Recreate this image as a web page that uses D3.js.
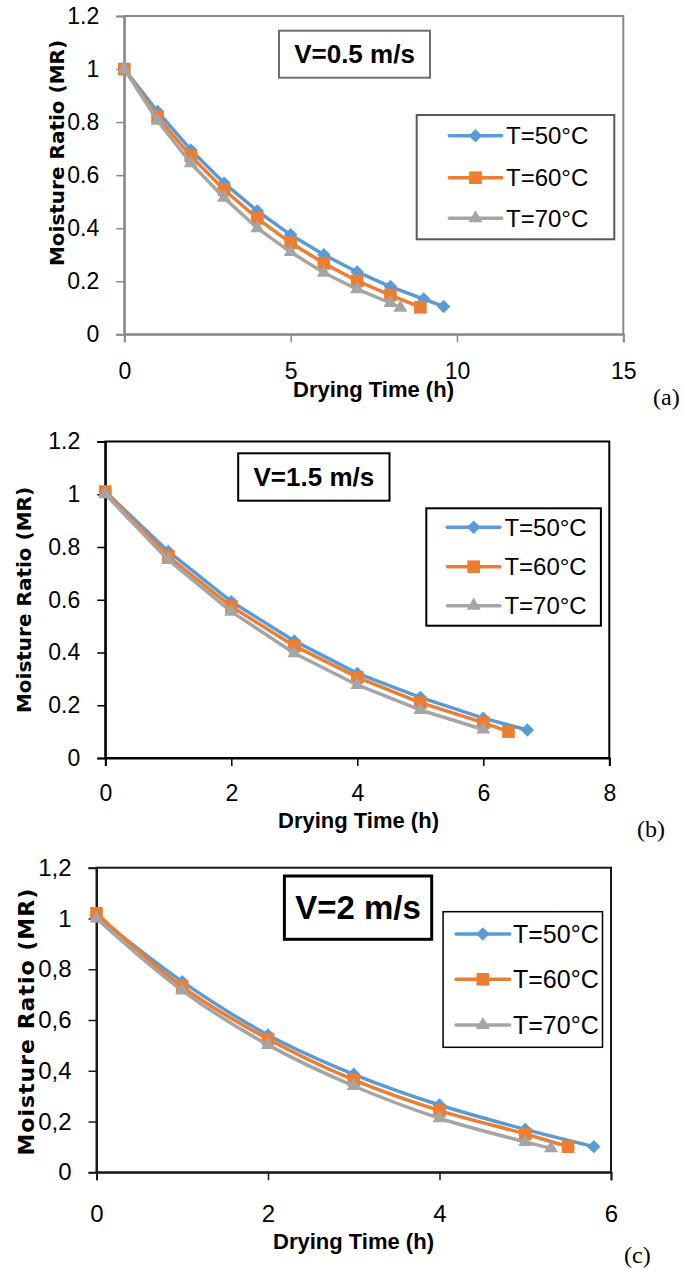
<!DOCTYPE html>
<html>
<head>
<meta charset="utf-8">
<script src="https://cdn.jsdelivr.net/npm/d3@7"></script>
<style>
  body { margin: 0; background: #fff; }
  svg text { font-family: "Liberation Sans", Arial, sans-serif; }
</style>
</head>
<body>
<svg id="chart" width="684" height="1270"></svg>
<script>
const seriesNames = ["T=50°C", "T=60°C", "T=70°C"];

// (a) V=0.5 m/s
const timeA50 = [0, 1, 2, 3, 4, 5, 6, 7, 8, 9, 9.6];
const mrA50 = [1.0, 0.84, 0.695, 0.57, 0.465, 0.375, 0.3, 0.235, 0.18, 0.133, 0.105];
const timeA60 = [0, 1, 2, 3, 4, 5, 6, 7, 8, 8.9];
const mrA60 = [1.0, 0.82, 0.672, 0.545, 0.437, 0.345, 0.268, 0.201, 0.148, 0.102];
const timeA70 = [0, 1, 2, 3, 4, 5, 6, 7, 8, 8.3];
const mrA70 = [1.0, 0.805, 0.645, 0.515, 0.4, 0.31, 0.232, 0.17, 0.118, 0.1];

// (b) V=1.5 m/s
const timeB50 = [0, 1, 2, 3, 4, 5, 6, 6.7];
const mrB50 = [1.01, 0.783, 0.593, 0.444, 0.321, 0.23, 0.151, 0.106];
const timeB60 = [0, 1, 2, 3, 4, 5, 6, 6.4];
const mrB60 = [1.01, 0.764, 0.574, 0.425, 0.306, 0.21, 0.134, 0.1];
const timeB70 = [0, 1, 2, 3, 4, 5, 6];
const mrB70 = [1.0, 0.751, 0.555, 0.397, 0.277, 0.182, 0.108];

// (c) V=2 m/s
const timeC50 = [0, 1, 2, 3, 4, 5, 5.8];
const mrC50 = [1.01, 0.751, 0.541, 0.386, 0.265, 0.169, 0.101];
const timeC60 = [0, 1, 2, 3, 4, 5, 5.5];
const mrC60 = [1.02, 0.731, 0.525, 0.364, 0.243, 0.151, 0.101];
const timeC70 = [0, 1, 2, 3, 4, 5, 5.3];
const mrC70 = [1.0, 0.716, 0.502, 0.34, 0.213, 0.12, 0.095];

const yTicks = [0, 0.2, 0.4, 0.6, 0.8, 1, 1.2];
const xTicksA = [0, 5, 10, 15];
const xTicksB = [0, 2, 4, 6, 8];
const xTicksC = [0, 2, 4, 6];

const colors = ["#5B9BD5", "#ED7D31", "#A5A5A5"];

function zipSeries(xs, ys) {
  return xs.map((x, i) => ({ x: x, y: ys[i] }));
}

function marker(g, i, x, y) {
  if (i === 0) {
    g.append('path')
      .attr('d', d3.symbol(d3.symbolSquare, 90)())
      .attr('transform', `translate(${x},${y}) rotate(45)`)
      .attr('fill', colors[i]);
  } else if (i === 1) {
    g.append('path')
      .attr('d', d3.symbol(d3.symbolSquare, 160)())
      .attr('transform', `translate(${x},${y})`)
      .attr('fill', colors[i]);
  } else {
    g.append('path')
      .attr('d', d3.symbol(d3.symbolTriangle, 85)())
      .attr('transform', `translate(${x},${y})`)
      .attr('fill', colors[i]);
  }
}

function makePanel(svg, p) {
  let g = svg.append('g');

  let xScale = d3.scaleLinear()
    .domain([0, p.xMax])
    .range([p.left, p.right]);

  let yScale = d3.scaleLinear()
    .domain([0, 1.2])
    .range([p.bottom, p.top]);

  // frame
  g.append('rect')
    .attr('x', p.left).attr('y', p.top)
    .attr('width', p.right - p.left).attr('height', p.bottom - p.top)
    .attr('fill', 'none')
    .attr('stroke', p.axisColor)
    .attr('stroke-width', 2);

  // AXES
  let yAxis = g.append('g')
    .attr('transform', `translate(${p.left},0)`)
    .call(d3.axisLeft(yScale).tickValues(yTicks).tickSize(8).tickPadding(17)
      .tickFormat((d) => p.comma ? String(d).replace('.', ',') : String(d)));

  let xAxis = g.append('g')
    .attr('transform', `translate(0,${p.bottom})`)
    .call(d3.axisBottom(xScale).tickValues(p.xTicks).tickSize(8).tickPadding(p.xPad)
      .tickFormat((d) => String(d)));

  [yAxis, xAxis].forEach((a) => {
    a.select('.domain').attr('stroke', p.axisColor).attr('stroke-width', 2);
    a.selectAll('.tick line').attr('stroke', p.axisColor).attr('stroke-width', 1.5);
    a.selectAll('.tick text')
      .attr('fill', '#000')
      .style('font-size', p.tickFont + 'px');
  });

  // series
  let line = d3.line()
    .x((d) => xScale(d.x))
    .y((d) => yScale(d.y))
    .curve(p.smooth ? d3.curveCatmullRom : d3.curveLinear);

  p.series.forEach((s, i) => {
    let sg = g.append('g');
    sg.append('path')
      .datum(s)
      .attr('d', line)
      .attr('fill', 'none')
      .attr('stroke', colors[i])
      .attr('stroke-width', 3.5)
      .attr('stroke-linejoin', 'round');
    s.forEach((d) => marker(sg, i, xScale(d.x), yScale(d.y)));
  });

  // velocity label
  let b = p.label;
  g.append('rect')
    .attr('x', b.x0).attr('y', b.y0)
    .attr('width', b.x1 - b.x0).attr('height', b.y1 - b.y0)
    .attr('fill', '#fff')
    .attr('stroke', b.stroke)
    .attr('stroke-width', b.sw);
  g.append('text')
    .attr('x', (b.x0 + b.x1) / 2)
    .attr('y', (b.y0 + b.y1) / 2)
    .attr('text-anchor', 'middle')
    .attr('dominant-baseline', 'central')
    .style('font-size', b.font + 'px')
    .style('font-weight', 'bold')
    .text(b.text);

  // legend
  let lg = p.legend;
  g.append('rect')
    .attr('x', lg.x0).attr('y', lg.y0)
    .attr('width', lg.x1 - lg.x0).attr('height', lg.y1 - lg.y0)
    .attr('fill', '#fff')
    .attr('stroke', lg.stroke)
    .attr('stroke-width', lg.sw);
  seriesNames.forEach((name, i) => {
    let y = lg.rows[i];
    g.append('line')
      .attr('x1', lg.lx0).attr('x2', lg.lx1)
      .attr('y1', y).attr('y2', y)
      .attr('stroke', colors[i])
      .attr('stroke-width', 3.5)
      .attr('stroke-linecap', 'round');
    marker(g, i, (lg.lx0 + lg.lx1) / 2, y);
    g.append('text')
      .attr('x', lg.tx)
      .attr('y', y)
      .attr('dominant-baseline', 'central')
      .style('font-size', (p.tickFont + 1) + 'px')
      .text(name);
  });

  // axis titles
  g.append('text')
    .attr('x', p.xTitle[0]).attr('y', p.xTitle[1])
    .attr('text-anchor', 'middle')
    .attr('dominant-baseline', 'central')
    .style('font-size', '22px')
    .style('font-weight', 'bold')
    .text('Drying Time (h)');

  g.append('text')
    .attr('transform', `translate(${p.yTitle[0]},${p.yTitle[1]}) rotate(-90)`)
    .attr('text-anchor', 'middle')
    .attr('dominant-baseline', 'central')
    .style('font-family', '"DejaVu Sans", Verdana, sans-serif')
    .style('font-size', p.yTitleFont + 'px')
    .style('font-weight', 'bold')
    .style('letter-spacing', p.yTitleSpacing + 'px')
    .text('Moisture Ratio (MR)');

  g.append('text')
    .attr('x', p.tag[0]).attr('y', p.tag[1])
    .attr('dominant-baseline', 'central')
    .style('font-family', '"Liberation Serif", "Times New Roman", serif')
    .style('font-size', '24px')
    .text(p.tag[2]);
}

window.onload = function () {
  let svg = d3.select('#chart');

  makePanel(svg, {
    left: 124.3, right: 623.3, top: 16, bottom: 334.3,
    xMax: 15, xTicks: xTicksA, xPad: 20, tickFont: 23, comma: false,
    axisColor: '#898989', smooth: false,
    series: [zipSeries(timeA50, mrA50), zipSeries(timeA60, mrA60), zipSeries(timeA70, mrA70)],
    label: { x0: 279, y0: 30.7, x1: 430, y1: 77.7, text: 'V=0.5 m/s', font: 26, stroke: '#6e6e6e', sw: 2 },
    legend: { x0: 416.7, y0: 115, x1: 614.3, y1: 239.3, stroke: '#595959', sw: 2,
      rows: [135.7, 177.7, 218.3], lx0: 449.3, lx1: 501.7, tx: 506 },
    xTitle: [373.5, 389], yTitle: [56.7, 153], yTitleFont: 20, yTitleSpacing: 0,
    tag: [653, 397, '(a)']
  });

  makePanel(svg, {
    left: 105.3, right: 609.3, top: 441.5, bottom: 758,
    xMax: 8, xTicks: xTicksB, xPad: 19, tickFont: 23, comma: false,
    axisColor: '#000', smooth: false,
    series: [zipSeries(timeB50, mrB50), zipSeries(timeB60, mrB60), zipSeries(timeB70, mrB70)],
    label: { x0: 238.2, y0: 453.3, x1: 389.5, y1: 500.7, text: 'V=1.5 m/s', font: 26, stroke: '#000', sw: 2 },
    legend: { x0: 426.3, y0: 508.3, x1: 600.9, y1: 625.7, stroke: '#000', sw: 2,
      rows: [527.3, 566.7, 605.7], lx0: 447.4, lx1: 500, tx: 504.4 },
    xTitle: [358.5, 820], yTitle: [24.1, 600], yTitleFont: 20, yTitleSpacing: 0,
    tag: [637, 829, '(b)']
  });

  makePanel(svg, {
    left: 96.5, right: 611, top: 867.7, bottom: 1172.3,
    xMax: 6, xTicks: xTicksC, xPad: 25, tickFont: 24, comma: true,
    axisColor: '#1a1a1a', smooth: true,
    series: [zipSeries(timeC50, mrC50), zipSeries(timeC60, mrC60), zipSeries(timeC70, mrC70)],
    label: { x0: 284.4, y0: 876, x1: 431.7, y1: 939.3, text: 'V=2 m/s', font: 33, stroke: '#000', sw: 3 },
    legend: { x0: 443.1, y0: 911.7, x1: 602.5, y1: 1047.3, stroke: '#000', sw: 1.5,
      rows: [934, 979.3, 1025], lx0: 456, lx1: 509.7, tx: 513 },
    xTitle: [353.5, 1241.7], yTitle: [26.3, 1021.7], yTitleFont: 22, yTitleSpacing: 1,
    tag: [624, 1255, '(c)']
  });
};
</script>
</body>
</html>
